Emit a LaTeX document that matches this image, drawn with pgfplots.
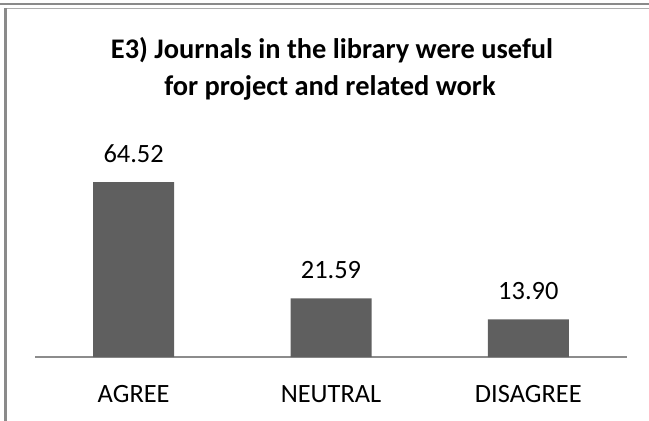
\documentclass[border=0pt]{standalone}
\usepackage{pgfplots}
\pgfplotsset{compat=1.18}
\usepackage{fontspec}
\setmainfont{Carlito}
\definecolor{barc}{HTML}{5F5F5F}
\definecolor{axc}{HTML}{8C8C8C}
\definecolor{frc}{HTML}{8A8A8A}
\begin{document}
\begin{tikzpicture}[x=1bp,y=1bp]
\begin{axis}[
  name=ax,
  scale only axis, width=592bp, height=189.84bp,
  xmin=-0.5, xmax=2.5, ymin=0, ymax=70,
  axis x line*=bottom, axis y line=none,
  x axis line style={axc, line width=2bp, -},
  xtick={0,1,2}, xticklabels={AGREE,NEUTRAL,DISAGREE},
  major tick length=0pt,
  xticklabel style={anchor=base, yshift=-45bp, font=\fontsize{26.5}{30}\selectfont},
  ybar, bar width=81bp, bar shift=0pt,
  point meta=explicit symbolic,
  nodes near coords,
  every node near coord/.append style={anchor=base, yshift=20bp, font=\fontsize{26.5}{30}\selectfont, text=black},
  clip=false,
]
\addplot[fill=barc, draw=none] coordinates {(0,64.52) [64.52] (1,21.59) [21.59] (2,13.90) [13.90]};
\end{axis}
\coordinate (O) at ([xshift=-35bp,yshift=-64bp]ax.south west);
\pgfresetboundingbox
\useasboundingbox (O) rectangle ([xshift=649bp,yshift=421bp]O);
\begin{scope}[shift={(O)}]
\draw[frc, line width=2.5bp] (0,417) -- (649,417);
\draw[frc!70, line width=1.5bp] (4,412.5) -- (649,412.5);
\draw[frc, line width=3bp] (5.5,413) -- (5.5,0);
\node[font=\fontsize{28.5}{34}\selectfont\bfseries, anchor=base, inner sep=0pt] at (332,363) {E3) Journals in the library were useful};
\node[font=\fontsize{28.5}{34}\selectfont\bfseries, anchor=base, inner sep=0pt] at (330,326) {for project and related work};
\end{scope}
\end{tikzpicture}
\end{document}
